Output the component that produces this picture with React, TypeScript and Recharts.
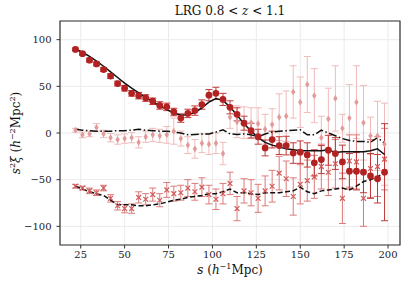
import { CartesianGrid, ComposedChart, ErrorBar, Line, ReferenceArea, Scatter, XAxis, YAxis } from "recharts"

// separation bins (h^-1 Mpc)
const sep = [22, 26, 30, 34, 38, 42, 46, 50, 54, 58, 62, 66, 70, 74, 78, 82, 86, 90, 94, 98, 102, 106, 110, 114, 118, 122, 126, 130, 134, 138, 142, 146, 150, 154, 158, 162, 166, 170, 174, 178, 182, 186, 190, 194, 198]

// monopole
const mono = [89.5, 85, 78, 74, 68, 61, 53, 48, 42.5, 40, 37.5, 34, 29.5, 28, 22.5, 16, 21, 24, 30.5, 40.5, 42.5, 36, 27.5, 20, 10.5, 2.5, -4, -16, -7, -13.5, -13.5, -21.5, -20.5, -23.5, -32, -28.5, -18.5, -22, -31, -41, -41, -42, -46, -49, -42]
const monoErr = [1.5, 1.5, 2, 2, 2, 2.5, 2.5, 3, 3, 3.5, 3.5, 3.5, 4, 4, 4, 4.5, 4.5, 5, 5, 6, 6.5, 6.5, 7, 7, 7.5, 8, 8, 8.5, 9, 9.5, 10, 11, 12, 13, 14, 15, 16, 17, 18, 19, 20, 22, 24, 26, 52]
const monoModel = [90, 86.5, 82, 77, 71.5, 65.5, 59.5, 53.5, 48, 43, 38, 33.5, 29, 25, 21.5, 19, 19.5, 22, 27, 33, 37, 35, 28, 19, 10, 2, -5, -10, -13, -15, -17, -18, -19, -19, -19, -19, -18, -21, -20, -20, -20, -20, -19, -17, -23]

// quadrupole
const quad = [3, -2, -1, 6, -1, -5, -7, -6, -5, -10, -4, -2, -3, -2, 2, -6, -13, -17, -11, -12, -11, -22, 17, 12, 11, 11, 10, 4, 9, 17, 18, 44, 33, 52, 40, -5, 15, 37, 5, 16, 33, 11, -3, -3, -12]
const quadErr = [2, 3, 3, 4, 4, 4.5, 5, 5, 5.5, 6, 6, 7, 7, 9, 14, 8, 9, 10, 10, 11, 11, 12, 12, 17, 17, 16, 17, 16, 17, 25, 27, 28, 27, 30, 29, 23, 33, 35, 15, 36, 39, 40, 20, 37, 44]
const quadModel = [4, 3, 2.5, 2, 2, 2, 2.5, 2.5, 3, 4, 3, 2.5, 2, 2, 1, 0, -2, -1.5, -1, -1, 1, 3.5, -1, -1.5, -1, -2, -4, -1, 1, 2, 2.5, 3, 3.5, -2, -2, 3, 0, -3, -6, -8, -9, -9, -10, -5, -11]

// hexadecapole
const hexa = [-57, -59, -62, -64, -59, -70, -78, -81, -81, -69, -71, -66, -72, -61, -65, -64, -59, -63, -58, -66, -71, -65, -54, -81, -62, -64, -70, -62, -57, -43, -49, -68, -55, -51, -47, -36, -42, -33, -70, -30, -31, -70, -38, -36, -28]
const hexaErr = [2, 2, 3, 3, 3, 4, 4.5, 4.5, 5, 6, 6, 7, 7, 8, 8, 8, 9, 9, 10, 10, 11, 11, 12, 13, 13, 14, 15, 16, 17, 18, 19, 20, 21, 22, 23, 24, 25, 26, 27, 28, 29, 30, 31, 32, 33]
const hexaModel = [-57, -60, -63, -65, -67, -72, -77, -77, -77, -78, -78, -77, -76, -74, -72, -71, -69, -68, -67, -65, -65, -63, -60, -64, -64, -65, -66, -64, -64, -64, -63, -62, -58, -63, -65, -62, -61, -60, -59, -61, -57, -52, -50, -47, -42]

const xTicks = [25, 50, 75, 100, 125, 150, 175, 200]
const yTicks = [-100, -50, 0, 50, 100]

const data = sep.map((s, i) => ({
    s,
    mono: mono[i],
    monoErr: monoErr[i],
    monoModel: monoModel[i],
    quad: quad[i],
    quadErr: quadErr[i],
    quadModel: quadModel[i],
    hexa: hexa[i],
    hexaErr: hexaErr[i],
    hexaModel: hexaModel[i],
}))

const W = 407
const H = 286
const X_DOMAIN = [13.2, 206.8]
const Y_DOMAIN = [-120, 120]
const FONT = "DejaVu Serif"

const tickStyle = { fontSize: 10, fill: "#222", fontFamily: FONT }

function Dot(props: any) {
    const { cx, cy } = props
    return <circle cx={cx} cy={cy} r={3.4} fill="#b22222" />
}

function Diamond(props: any) {
    const { cx, cy } = props
    const h = 3.4
    const w = 2.2
    return <path d={`M${cx},${cy - h}L${cx + w},${cy}L${cx},${cy + h}L${cx - w},${cy}Z`} fill="#e39a9a" />
}

function Cross(props: any) {
    const { cx, cy } = props
    const r = 2.4
    return (
        <path
            d={`M${cx - r},${cy - r}L${cx + r},${cy + r}M${cx - r},${cy + r}L${cx + r},${cy - r}`}
            stroke="#d05a5a"
            strokeWidth={1.2}
            fill="none"
        />
    )
}

const fmt = (v: number) => (v < 0 ? `\u2212${-v}` : `${v}`)

export default function App() {
    return (
        <div style={{ position: "absolute", left: 0, top: 0, width: W, height: H, background: "#fff", fontFamily: FONT, color: "#111" }}>
            <ComposedChart width={W} height={H} data={data} margin={{ top: 21, right: 7, bottom: 0, left: 0 }}>
                <CartesianGrid stroke="#ebebeb" strokeWidth={1} />
                <XAxis
                    type="number"
                    dataKey="s"
                    domain={X_DOMAIN}
                    ticks={xTicks}
                    allowDataOverflow
                    height={41}
                    axisLine={false}
                    tickSize={3.5}
                    tickMargin={2}
                    tickLine={{ stroke: "#333" }}
                    tick={tickStyle}
                />
                <YAxis
                    type="number"
                    domain={Y_DOMAIN}
                    ticks={yTicks}
                    allowDataOverflow
                    width={60}
                    axisLine={false}
                    tickSize={3.5}
                    tickMargin={5}
                    tickLine={{ stroke: "#333" }}
                    tick={tickStyle}
                    tickFormatter={fmt}
                />
                <Scatter dataKey="quad" shape={Diamond} isAnimationActive={false}>
                    <ErrorBar dataKey="quadErr" direction="y" width={3.5} stroke="#f0baba" strokeWidth={1} />
                </Scatter>
                <Scatter dataKey="hexa" shape={Cross} isAnimationActive={false}>
                    <ErrorBar dataKey="hexaErr" direction="y" width={3.5} stroke="#dc7a7a" strokeWidth={1} />
                </Scatter>
                <Scatter dataKey="mono" shape={Dot} isAnimationActive={false}>
                    <ErrorBar dataKey="monoErr" direction="y" width={3.5} stroke="#c03a3a" strokeWidth={1} />
                </Scatter>
                <Line dataKey="monoModel" type="linear" stroke="#111" strokeWidth={1.5} dot={false} isAnimationActive={false} />
                <Line dataKey="quadModel" type="linear" stroke="#111" strokeWidth={1.5} strokeDasharray="8 2.5 1.5 2.5" dot={false} isAnimationActive={false} />
                <Line dataKey="hexaModel" type="linear" stroke="#111" strokeWidth={1.5} strokeDasharray="5 2.5" dot={false} isAnimationActive={false} />
                <ReferenceArea x1={X_DOMAIN[0]} x2={X_DOMAIN[1]} y1={Y_DOMAIN[0]} y2={Y_DOMAIN[1]} fill="none" fillOpacity={0} stroke="#333" strokeWidth={1.2} />
            </ComposedChart>
            <div style={{ position: "absolute", left: 60, width: 340, top: 4, textAlign: "center", fontSize: 12, lineHeight: "14px", whiteSpace: "nowrap" }}>
                LRG 0.8 &lt; <i>z</i> &lt; 1.1
            </div>
            <div style={{ position: "absolute", left: 60, width: 340, top: 263, textAlign: "center", fontSize: 12, lineHeight: "14px", whiteSpace: "nowrap" }}>
                <i>s</i> (<i>h</i><sup style={{ fontSize: 8, lineHeight: 0 }}>−1</sup>Mpc)
            </div>
            <div
                style={{
                    position: "absolute",
                    left: 16,
                    top: 133,
                    transform: "translate(-50%, -50%) rotate(-90deg)",
                    fontSize: 12,
                    lineHeight: "14px",
                    whiteSpace: "nowrap",
                }}
            >
                <i>s</i><sup style={{ fontSize: 8, lineHeight: 0 }}>2</sup><i>ξ</i> (<i>h</i><sup style={{ fontSize: 8, lineHeight: 0 }}>−2</sup>Mpc<sup style={{ fontSize: 8, lineHeight: 0 }}>2</sup>)
            </div>
        </div>
    )
}
